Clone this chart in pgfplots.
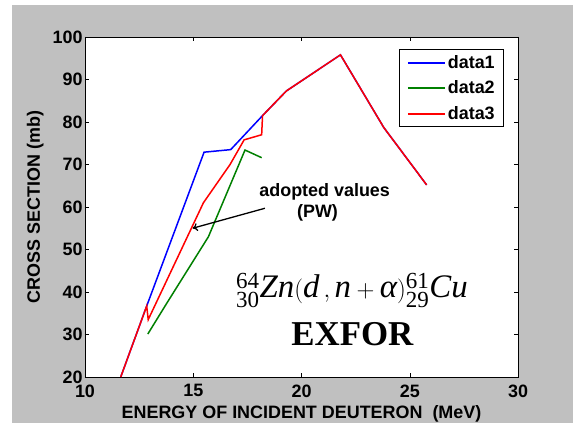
\documentclass[border=0pt]{standalone}
\usepackage{pgfplots}
\pgfplotsset{compat=1.18}
\usepackage{amsmath}
\usepackage{fontspec}
\setmainfont{Liberation Sans}
\newfontfamily\timesf{Liberation Serif}
\usetikzlibrary{arrows.meta}
\definecolor{figgray}{RGB}{192,192,192}
\definecolor{mgreen}{RGB}{0,128,0}
\begin{document}
\begin{tikzpicture}[x=1bp,y=1bp]
\fill[white] (-85,-46) rectangle (488,377);
\fill[figgray] (-73,-46) rectangle (488,372);
\begin{axis}[
  at={(0,0)}, anchor=origin,
  scale only axis, width=433bp, height=340bp,
  xmin=10, xmax=30, ymin=20, ymax=100,
  xtick={10,15,20,25,30}, ytick={20,30,40,50,60,70,80,90,100},
  tick align=inside, major tick length=4bp,
  tick style={black, line width=0.5bp},
  axis line style={black, line width=0.9bp},
  axis background/.style={fill=white},
  /pgf/number format/assume math mode=true,
  ticklabel style={font=\fontsize{18}{20}\selectfont\bfseries},
  xticklabel style={yshift=-4bp},
  yticklabel style={xshift=1bp},
  xlabel={ENERGY OF INCIDENT DEUTERON\ \ (MeV)},
  ylabel={CROSS SECTION (mb)},
  label style={font=\fontsize{18}{20}\selectfont\bfseries},
  xlabel style={at={(axis description cs:0.5,0)}, anchor=base, yshift=-41bp},
  ylabel style={at={(axis description cs:0,0.5)}, anchor=base, yshift=45bp},
  legend style={at={(0.968,0.965)}, anchor=north east, draw=black, line width=0.9bp,
    font=\fontsize{18}{20}\selectfont\bfseries, row sep=7bp, inner xsep=7bp, inner ysep=4bp,
    cells={anchor=west}},
  legend image code/.code={\draw[#1, line width=2bp] (0bp,0bp) -- (37bp,0bp);},
  every axis plot/.append style={line width=1.5bp},
]
\addplot[blue] coordinates {(11.65,20) (12.85,36.7) (15.5,72.9) (16.73,73.5) (18.2,81.5) (19.3,87.3) (21.8,95.8) (23.8,78.7) (25.78,65.2)};
\addlegendentry{data1}
\addplot[mgreen] coordinates {(12.9,30.1) (13.77,37.3) (15.7,53.0) (17.39,73.4) (18.16,71.6)};
\addlegendentry{data2}
\addplot[red] coordinates {(11.65,20) (12.85,36.7) (12.92,33.5) (15.47,61.0) (16.7,70.0) (17.35,75.8) (18.16,77.0) (18.2,81.5) (19.3,87.3) (21.8,95.8) (23.8,78.7) (25.78,65.2)};
\addlegendentry{data3}
\node[font=\fontsize{18}{20}\selectfont\bfseries] at (axis cs:21.07,63.6) {adopted values};
\node[font=\fontsize{18}{20}\selectfont\bfseries] at (axis cs:20.74,58.6) {(PW)};
\draw[-{To[length=5bp,width=8bp]}, line width=1.3bp] (axis cs:18.31,59.7) -- (axis cs:14.97,55.0);
\node[anchor=base, font=\timesf\fontsize{33}{36}\selectfont] at (axis cs:22.33,38.8)
  {$\vphantom{A}^{\text{64}}_{\text{30}}\textit{Zn}(\textit{d}\,,\textit{n}+\textit{α})^{\text{61}}_{\text{29}}\textit{Cu}$};
\node[anchor=base, font=\timesf\bfseries\fontsize{35}{38}\selectfont] at (axis cs:22.35,27.3) {EXFOR};
\end{axis}
\end{tikzpicture}
\end{document}
